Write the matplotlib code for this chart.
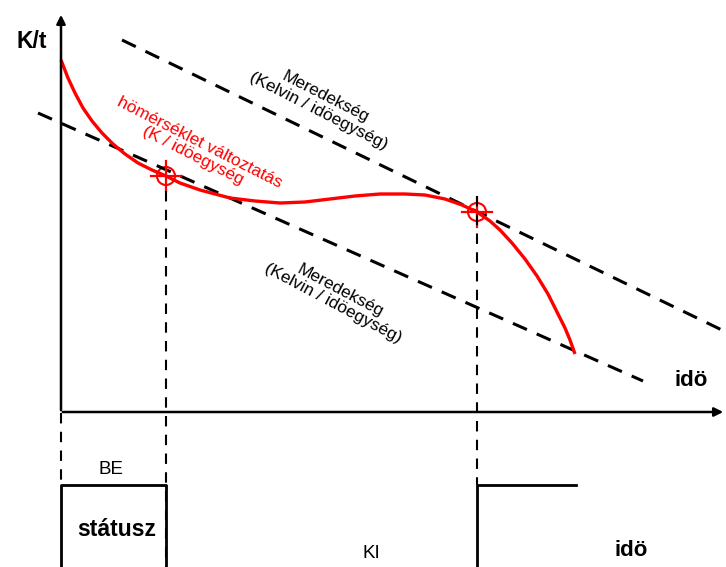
import matplotlib.pyplot as plt
from matplotlib.patches import Circle

plt.rcParams['font.family'] = ['Liberation Sans', 'DejaVu Sans']

# Hőmérséklet-változtatás görbe (pixel koordináták)
curve_x = [61, 68, 75, 83, 92, 102, 113, 125, 138, 152, 166, 180, 200, 230, 255, 280,
           305, 330, 355, 380, 405, 425, 445, 462, 477, 490, 500, 512, 525, 537, 548,
           557, 565, 570, 575]
curve_y = [60, 78, 93, 108, 121, 133, 144, 154, 163, 170, 176, 183, 190, 198, 201, 203,
           202, 199, 196, 194, 194, 195, 199, 205, 212, 221, 230, 243, 259, 276, 294,
           312, 328, 340, 354]

# Meredekség egyenesek
upper_x = [122, 726]
upper_y = [40, 332]
lower_x = [38, 643]
lower_y = [113, 381]

# Kapcsolási pontok
switch_x = [166, 477]
switch_y = [176, 212]

# Státusz jel
status_on_x = [61, 61, 166, 166]
status_on_y = [567, 485, 485, 567]
status_on2_x = [477, 477, 576]
status_on2_y = [567, 485, 485]

fig = plt.figure(figsize=(7.26, 5.67), dpi=100)
ax = fig.add_axes([0, 0, 1, 1])
ax.set_xlim(0, 726)
ax.set_ylim(567, 0)
ax.axis('off')

# tengelyek
ax.annotate('', xy=(61, 12), xytext=(61, 413),
            arrowprops=dict(arrowstyle='-|>', color='black', lw=1.8, mutation_scale=13))
ax.annotate('', xy=(726, 412), xytext=(60, 412),
            arrowprops=dict(arrowstyle='-|>', color='black', lw=1.8, mutation_scale=13))

# szaggatott egyenesek
ax.plot(upper_x, upper_y, color='black', lw=2.2, dashes=(5, 3.5))
ax.plot(lower_x, lower_y, color='black', lw=2.2, dashes=(5, 3.5))

# görbe
ax.plot(curve_x, curve_y, color='red', lw=2.4, solid_capstyle='butt',
        solid_joinstyle='round')

# jelölők
for x, y in zip(switch_x, switch_y):
    ax.add_patch(Circle((x, y), 9, fill=False, ec='red', lw=1.5))
    ax.plot([x - 15, x + 15], [y, y], color='red', lw=1.6)
    ax.plot([x, x], [y - 15, y + 15], color='red', lw=1.6)

# függőleges szaggatott vonalak
ax.plot([61, 61], [413, 485], color='black', lw=1.5, dashes=(5, 4))
ax.plot([166, 166], [191, 567], color='black', lw=1.5, dashes=(5, 4))
ax.plot([477, 477], [196, 485], color='black', lw=1.5, dashes=(5, 4))

# státusz
ax.plot(status_on_x, status_on_y, color='black', lw=2)
ax.plot(status_on2_x, status_on2_y, color='black', lw=2)

# szövegek
ax.text(16, 42, 'K/t', fontsize=16.5, fontweight='bold', va='center')
ax.text(691, 380, 'idö', fontsize=16, fontweight='bold', va='center', ha='center')
ax.text(111, 469, 'BE', fontsize=13.5, va='center', ha='center')
ax.text(117, 529, 'státusz', fontsize=16.5, fontweight='bold', va='center', ha='center')
ax.text(371, 553, 'KI', fontsize=13.5, va='center', ha='center')
ax.text(631, 550, 'idö', fontsize=16, fontweight='bold', va='center', ha='center')

ax.text(322, 104, 'Meredekség\n(Kelvin / idöegység)', fontsize=12.5, rotation=-27,
        ha='center', va='center', multialignment='center', rotation_mode='anchor',
        linespacing=1.0)
ax.text(337, 297, 'Meredekség\n(Kelvin / idöegység)', fontsize=12.5, rotation=-28,
        ha='center', va='center', multialignment='center', rotation_mode='anchor',
        linespacing=1.0)
ax.text(196, 149, 'hömérséklet változtatás\n(K / idöegység', fontsize=12.5, rotation=-27,
        ha='center', va='center', multialignment='center', rotation_mode='anchor',
        color='red', linespacing=1.0)

fig.savefig('out.png', dpi=100)
